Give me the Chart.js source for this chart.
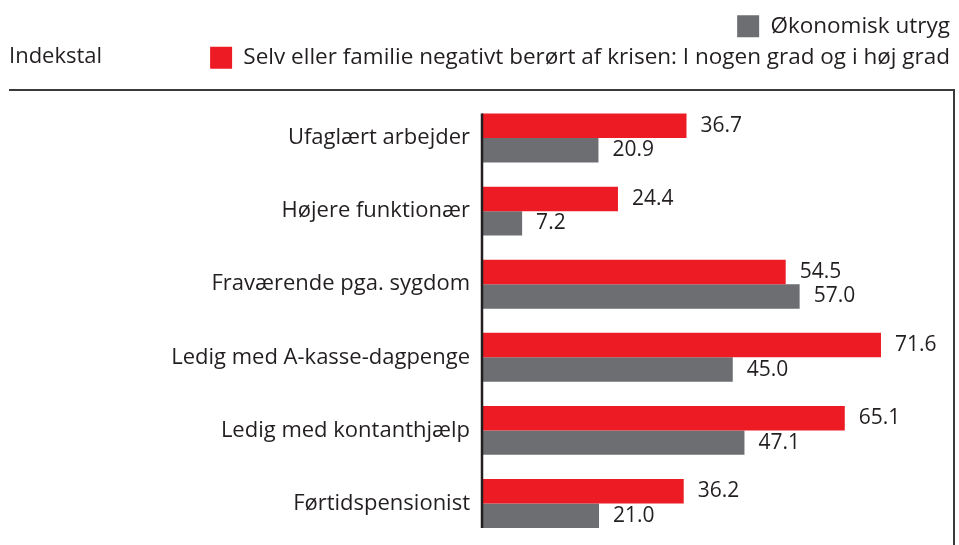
<!DOCTYPE html>
<html>
<head>
<meta charset="utf-8">
<script src="https://cdn.jsdelivr.net/npm/chart.js@4/dist/chart.umd.min.js"></script>
<style>
  html, body { margin: 0; padding: 0; background: #ffffff; }
  #wrap { width: 959px; height: 545px; position: relative; }
</style>
</head>
<body>
<div id="wrap"><canvas id="c" width="959" height="545"></canvas></div>
<script>
const categories = [
  "Ufaglært arbejder",
  "Højere funktionær",
  "Fraværende pga. sygdom",
  "Ledig med A-kasse-dagpenge",
  "Ledig med kontanthjælp",
  "Førtidspensionist"
];
const seriesNames = [
  "Selv eller familie negativt berørt af krisen: I nogen grad og i høj grad",
  "Økonomisk utryg"
];
const negativtBeroert = [36.7, 24.4, 54.5, 71.6, 65.1, 36.2];
const oekonomiskUtryg = [20.9, 7.2, 57.0, 45.0, 47.1, 21.0];
const axisTitle = "Indekstal";

const RED = "#ED1C24";
const GREY = "#6D6E71";
const TEXT = "#231F20";
const FONT = "'Open Sans', 'Noto Sans', sans-serif";
const FS = 22;
const LFS = 22.5;
const VFS = 21;

const decorPlugin = {
  id: "decor",
  afterDraw(chart) {
    const ctx = chart.ctx;
    const ca = chart.chartArea;
    ctx.save();
    // title
    ctx.fillStyle = TEXT;
    ctx.font = FS + "px " + FONT;
    ctx.textAlign = "left";
    ctx.textBaseline = "middle";
    ctx.fillText(axisTitle, 9, 57);
    // frame: top rule + right rule
    ctx.strokeStyle = "#3a3a3a";
    ctx.lineWidth = 2;
    ctx.beginPath();
    ctx.moveTo(9, 90);
    ctx.lineTo(954, 90);
    ctx.lineTo(954, 545);
    ctx.stroke();
    // y-axis line spanning the bars
    const m0 = chart.getDatasetMeta(0).data;
    const m1 = chart.getDatasetMeta(1).data;
    if (m0.length && m1.length) {
      const first = m0[0], last = m1[m1.length - 1];
      const top = first.y - first.height / 2;
      const bot = last.y + last.height / 2;
      ctx.strokeStyle = "#231F20";
      ctx.lineWidth = 2.5;
      ctx.beginPath();
      ctx.moveTo(ca.left, top);
      ctx.lineTo(ca.left, bot);
      ctx.stroke();
    }
    // value labels
    ctx.font = VFS + "px " + FONT;
    ctx.fillStyle = TEXT;
    ctx.textAlign = "left";
    ctx.textBaseline = "middle";
    chart.data.datasets.forEach((ds, di) => {
      const meta = chart.getDatasetMeta(di);
      meta.data.forEach((bar, i) => {
        ctx.fillText(ds.data[i].toFixed(1), bar.x + 14, bar.y);
      });
    });
    ctx.restore();
  }
};

new Chart(document.getElementById("c"), {
  type: "bar",
  data: {
    labels: categories,
    datasets: [
      { label: seriesNames[0], data: negativtBeroert, backgroundColor: RED, borderWidth: 0,
        barPercentage: 1.0, categoryPercentage: 0.67 },
      { label: seriesNames[1], data: oekonomiskUtryg, backgroundColor: GREY, borderWidth: 0,
        barPercentage: 1.0, categoryPercentage: 0.67 }
    ]
  },
  options: {
    indexAxis: "y",
    responsive: false,
    animation: false,
    layout: { padding: { top: 6, right: 0, bottom: 5, left: 0 } },
    plugins: {
      legend: {
        display: true,
        position: "top",
        align: "end",
        reverse: true,
        labels: {
          boxWidth: 22,
          boxHeight: 22,
          padding: 9,
          color: TEXT,
          font: { family: FONT, size: LFS }
        }
      },
      tooltip: { enabled: false },
      title: { display: false }
    },
    scales: {
      x: {
        position: "top",
        min: 0,
        max: 85.6,
        display: true,
        grid: { display: false, drawTicks: false },
        border: { display: false },
        ticks: { display: false },
        afterFit(s) { s.height = 22.5; s.paddingLeft = 0; s.paddingRight = 0; }
      },
      y: {
        grid: { display: false, drawTicks: false },
        border: { display: false },
        ticks: {
          color: TEXT,
          padding: 12,
          font: { family: FONT, size: FS }
        },
        afterFit(s) { s.width = 482; s.paddingTop = 0; s.paddingBottom = 0; }
      }
    }
  },
  plugins: [decorPlugin]
});
</script>
</body>
</html>
